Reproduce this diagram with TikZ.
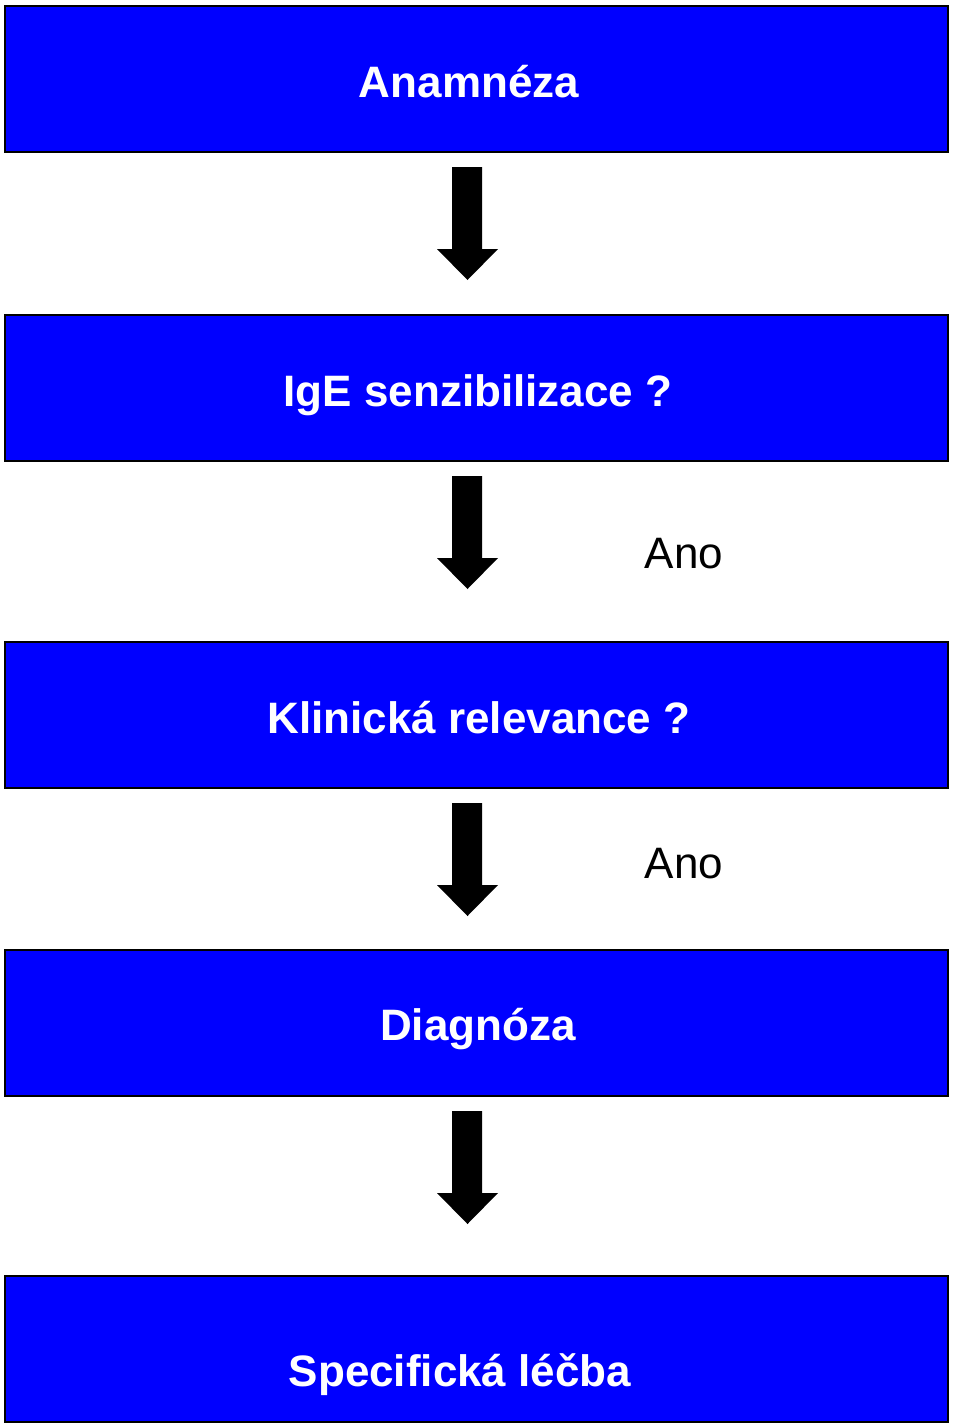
\documentclass[tikz,border=0pt]{standalone}
\usepackage{fontspec}
\setmainfont{Liberation Sans}
\begin{document}
\begin{tikzpicture}[x=1pt,y=-1pt,
  box/.style={draw=black,line width=2pt,fill=blue,minimum width=943pt,minimum height=146pt,anchor=north west,inner sep=0pt,outer sep=0pt},
  title/.style={text=white,font=\bfseries\fontsize{44}{52}\selectfont,anchor=base,inner sep=0pt},
  yes/.style={text=black,font=\fontsize{44}{52}\selectfont,anchor=base,inner sep=0pt},
  blockarrow/.style={fill=black}]
\useasboundingbox (0,0) rectangle (960,1427);
\node[box] (b1) at (5,6) {};
\node[box] (b2) at (5,315) {};
\node[box] (b3) at (5,642) {};
\node[box] (b4) at (5,950) {};
\node[box] (b5) at (5,1276) {};
\node[title] (t1) at (469,97) {Anamnéza};
\node[title] (t2) at (478,406) {IgE senzibilizace ?};
\node[title] (t3) at (479,733) {Klinická relevance ?};
\node[title] (t4) at (478,1040) {Diagnóza};
\node[title] (t5) at (460,1386) {Specifická léčba};
\node[yes] (a1) at (684,568) {Ano};
\node[yes] (a2) at (684,878) {Ano};
\foreach \t in {167,476,803,1111}{
  \fill[blockarrow] (452,\t) -- (482,\t) -- (482,\t+82) -- (498,\t+82) -- (467.5,\t+113) -- (437,\t+82) -- (452,\t+82) -- cycle;
}
\end{tikzpicture}
\end{document}
